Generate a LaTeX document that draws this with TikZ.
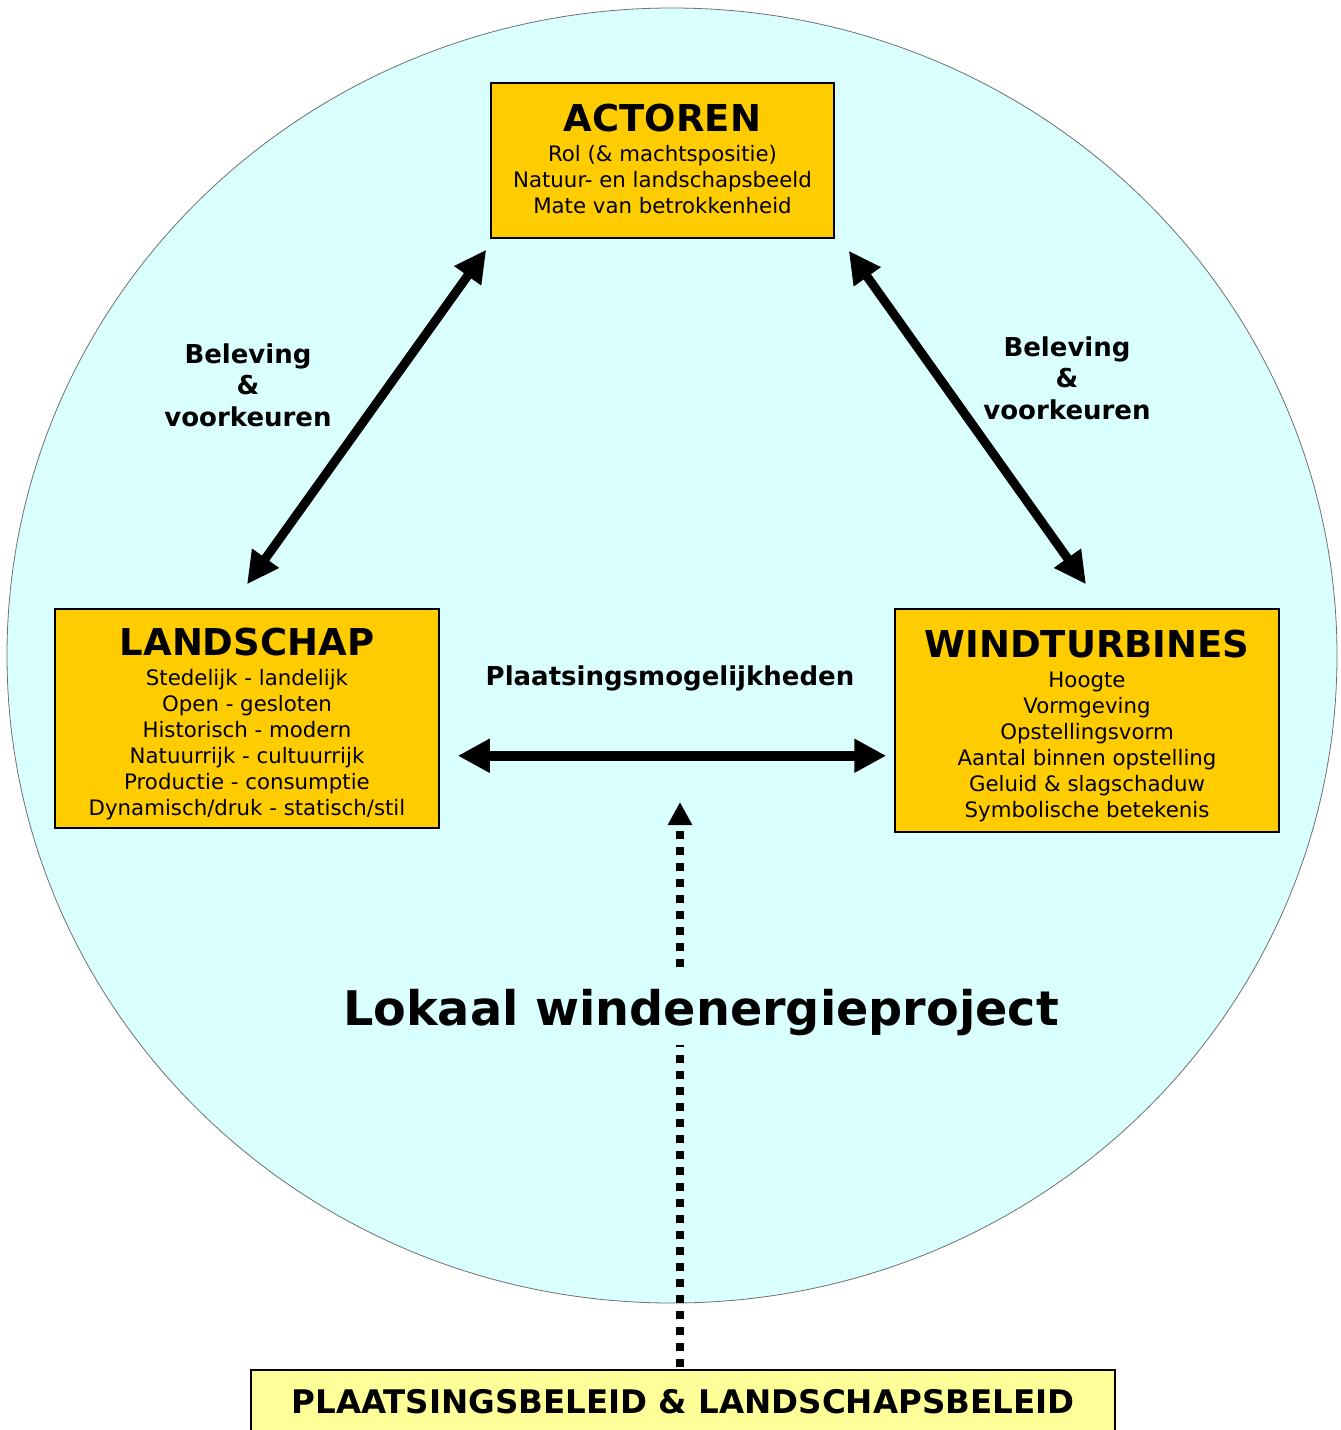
\documentclass[tikz,border=0pt]{standalone}
\usepackage{fontspec}
\setmainfont{DejaVu Sans}
\usetikzlibrary{arrows.meta,calc}
\definecolor{circfill}{HTML}{DAFFFF}
\definecolor{boxorange}{HTML}{FFCC00}
\definecolor{boxyellow}{HTML}{FFFF99}
\definecolor{circline}{HTML}{707070}
\newcommand\myfs[2]{\fontsize{#1}{#2}\selectfont}
\begin{document}
\begin{tikzpicture}[x=1pt,y=-1pt,
  infobox/.style={draw=black, line width=1.5pt, fill=boxorange, align=center, inner sep=0pt, font=\myfs{21.3}{26}},
  sidelabel/.style={align=center, font=\myfs{26}{31.5}\bfseries},
  diagarrow/.style={line width=9pt, {Triangle[length=32pt,width=31pt]}-{Triangle[length=32pt,width=31pt]}},
  hzarrow/.style={line width=10.5pt, {Triangle[length=32pt,width=32pt]}-{Triangle[length=32pt,width=32pt]}},
  dotarrow/.style={line width=8pt, dash pattern=on 8pt off 8pt, dash phase=14pt, -{Triangle[length=23pt,width=23pt]}}
]
\useasboundingbox (0,0) rectangle (1341,1430);
\clip (0,0) rectangle (1341,1430);
\fill[white] (0,0) rectangle (1341,1430);
\draw[circline, fill=circfill, line width=0.8pt] (672,655.5) ellipse [x radius=665, y radius=647.5];

\node[infobox, minimum width=343, minimum height=155] (actoren) at (662.5,160.5)
  {{\myfs{37}{40}\bfseries ACTOREN}\\[4pt]Rol (\& machtspositie)\\Natuur- en landschapsbeeld\\Mate van betrokkenheid\rule[-4pt]{0pt}{4pt}};
\node[infobox, minimum width=384, minimum height=219] (landschap) at (247,718.5)
  {{\myfs{37}{40}\bfseries\rule{0pt}{39pt}LANDSCHAP}\\[4pt]Stedelijk - landelijk\\Open - gesloten\\Historisch - modern\\Natuurrijk - cultuurrijk\\Productie - consumptie\\Dynamisch/druk - statisch/stil};
\node[infobox, minimum width=384, minimum height=223] (windturbines) at (1087,720.5)
  {{\myfs{37}{40}\bfseries\rule{0pt}{39pt}WINDTURBINES}\\[4pt]Hoogte\\Vormgeving\\Opstellingsvorm\\Aantal binnen opstelling\\Geluid \& slagschaduw\\Symbolische betekenis};
\node[draw=black, line width=1.5pt, fill=boxyellow, minimum width=864, minimum height=64, inner sep=0pt, font=\myfs{32.5}{36}\bfseries] (plaats) at (683,1402)
  {PLAATSINGSBELEID \& LANDSCHAPSBELEID};

\node[sidelabel] (bel1) at (248,385) {Beleving\\\&\\voorkeuren};
\node[sidelabel] (bel2) at (1067,378) {Beleving\\\&\\voorkeuren};
\node[sidelabel] (plm) at (670,678) {Plaatsingsmogelijkheden};

\draw[diagarrow] ($(actoren.south west)+(-4,11)$) -- ($(landschap.north)+(0,-24)$);
\draw[diagarrow] ($(actoren.south east)+(14,12)$) -- ($(windturbines.north)+(-1,-24)$);
\draw[hzarrow] ($(landschap.south east)+(18,-73)$) -- ($(windturbines.south west)+(-8,-77)$);

\coordinate (tip) at (680,802);
\draw[dotarrow] (plaats.north -| tip) -- (tip);

\node[fill=circfill, anchor=base, inner ysep=0pt, inner xsep=4pt, text height=50pt, text depth=20pt, font=\myfs{47.7}{50}\bfseries] (lokaal) at (701,1025) {Lokaal windenergieproject};
\end{tikzpicture}
\end{document}
